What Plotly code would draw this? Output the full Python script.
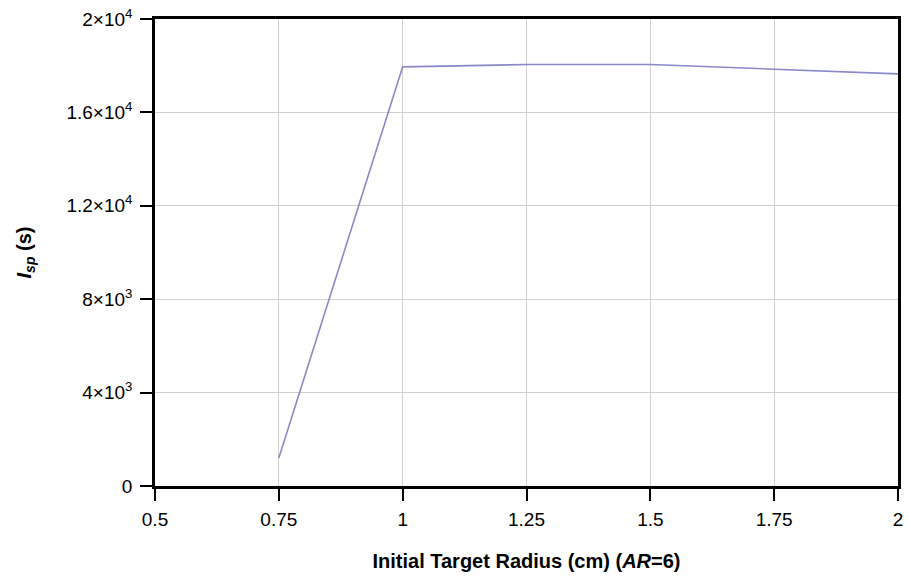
import plotly.graph_objects as go

# Specific impulse vs. initial target radius
radius_cm = [0.75, 1.0, 1.25, 1.5, 1.75, 2.0]
isp_s = [1200, 17950, 18050, 18050, 17850, 17650]

y_tick_vals = [0, 4000, 8000, 12000, 16000, 20000]
y_tick_text = ["0", "4×10<sup>3</sup>", "8×10<sup>3</sup>", "1.2×10<sup>4</sup>",
               "1.6×10<sup>4</sup>", "2×10<sup>4</sup>"]
x_tick_vals = [0.5, 0.75, 1, 1.25, 1.5, 1.75, 2]
x_tick_text = ["0.5", "0.75", "1", "1.25", "1.5", "1.75", "2"]

FONT = "Liberation Sans, Arial"

fig = go.Figure()
fig.add_trace(go.Scatter(
    x=radius_cm, y=isp_s, mode="lines",
    line=dict(color="#8a88c8", width=1.6),
    showlegend=False,
))

axis_common = dict(
    showline=True, linecolor="black", linewidth=2.5, mirror=True,
    ticks="outside", ticklen=12, tickcolor="black", tickwidth=1.5,
    showgrid=True, gridcolor="#d0d0d0", gridwidth=1,
    zeroline=False,
    tickfont=dict(family=FONT, size=19, color="black"),
)

fig.update_xaxes(
    range=[0.5, 2], tickvals=x_tick_vals, ticktext=x_tick_text,
    ticklabelstandoff=2,
    title=dict(text="<b>Initial Target Radius (cm) (<i>AR</i>=6)</b>",
               font=dict(family=FONT, size=20, color="black"),
               standoff=26),
    **axis_common,
)
fig.update_yaxes(
    range=[0, 20000], tickvals=y_tick_vals, ticktext=y_tick_text,
    ticklabelstandoff=4,
    title=dict(text="<b><i>I<sub>sp</sub></i> (s)</b>",
               font=dict(family=FONT, size=20, color="black"),
               standoff=30),
    **axis_common,
)

fig.update_layout(
    width=909, height=579,
    margin=dict(l=155, r=6, t=17, b=93),
    paper_bgcolor="white", plot_bgcolor="white",
)

fig.write_html("out.html")
